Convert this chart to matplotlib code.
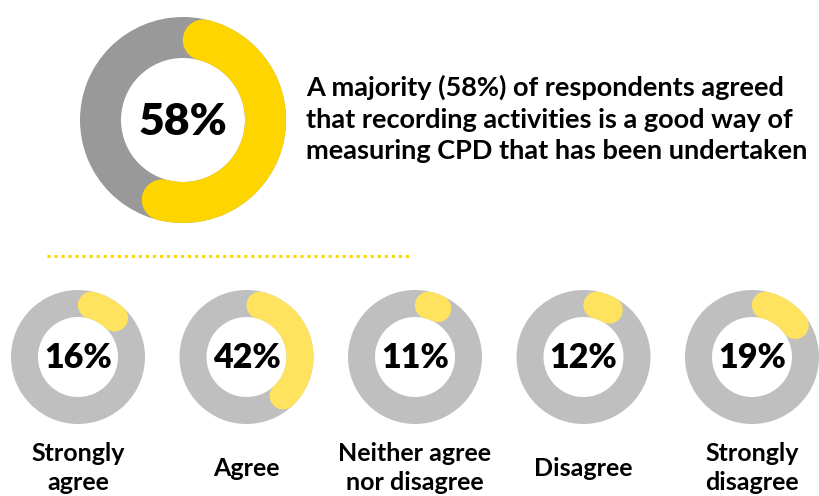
import numpy as np
import matplotlib
matplotlib.use("Agg")
import matplotlib.pyplot as plt
from matplotlib.patches import Wedge, Circle

plt.rcParams['font.family'] = ['Lato', 'DejaVu Sans']

headline_pct = 58
headline_text = ("A majority (58%) of respondents agreed\n"
                 "that recording activities is a good way of\n"
                 "measuring CPD that has been undertaken")

answers = ["Strongly\nagree", "Agree", "Neither agree\nnor disagree",
           "Disagree", "Strongly\ndisagree"]
shares = [16, 42, 11, 12, 19]

big_gray, big_yellow = "#999999", "#FFD500"
small_gray, small_yellow = "#BFBFBF", "#FFE35E"


def ring(ax, cx, cy, R, width, pct, gray, yellow):
    # grey track, then the yellow share with rounded ends starting at 12 o'clock
    ax.add_patch(Wedge((cx, cy), R, 0, 360, width=width, color=gray, lw=0))
    rm = R - width / 2
    cap = np.degrees((width / 2) / rm)
    a0 = 90 - cap
    a1 = 90 - pct * 3.6 + cap
    ax.add_patch(Wedge((cx, cy), R, a1, a0, width=width, color=yellow, lw=0))
    for a in (a0, a1):
        t = np.radians(a)
        ax.add_patch(Circle((cx + rm * np.cos(t), cy + rm * np.sin(t)),
                            width / 2, color=yellow, lw=0))


fig = plt.figure(figsize=(8.19, 4.96), dpi=100)
ax = fig.add_axes([0, 0, 1, 1])
ax.set_xlim(0, 819)
ax.set_ylim(0, 496)
ax.set_aspect('equal')
ax.axis('off')

# headline donut
ring(ax, 183, 376, 103, 41, headline_pct, big_gray, big_yellow)
ax.text(183, 374, f"{headline_pct}%", ha='center', va='center',
        fontsize=32, fontweight='heavy', color='black')
ax.text(306, 377, headline_text, ha='left', va='center', fontsize=19.5,
        fontweight='bold', color='black', linespacing=1.38)

# dotted separator
ax.plot([47, 410], [240, 240], color=big_yellow, lw=2.2,
        linestyle=(0, (1, 1.3)), solid_capstyle='butt')

# one small donut per answer
centers = np.linspace(78, 752, len(shares))
for cx, pct, lab in zip(centers, shares, answers):
    ring(ax, cx, 139, 67, 27, pct, small_gray, small_yellow)
    ax.text(cx, 138, f"{pct}%", ha='center', va='center', fontsize=24.5,
            fontweight='heavy', color='black')
    ax.text(cx, 28, lab, ha='center', va='center', fontsize=18,
            fontweight='bold', color='black', linespacing=1.3)

fig.savefig("out.png", dpi=100)
